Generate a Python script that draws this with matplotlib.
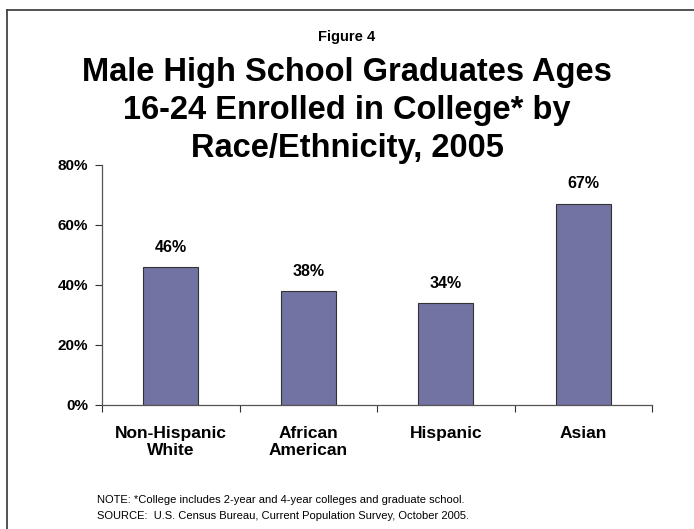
import matplotlib
matplotlib.use("Agg")
import matplotlib.pyplot as plt
from matplotlib.lines import Line2D

categories = ["Non-Hispanic\nWhite", "African\nAmerican", "Hispanic", "Asian"]
values = [46, 38, 34, 67]
yticks = [0, 20, 40, 60, 80]
ytick_labels = ["0%", "20%", "40%", "60%", "80%"]

plt.rcParams["font.family"] = ["Liberation Sans", "DejaVu Sans"]

W, H = 694, 529
fig = plt.figure(figsize=(W / 100, H / 100), dpi=100)

# page frame (top and left edges)
fig.add_artist(Line2D([7 / W, 1], [1 - 10 / H, 1 - 10 / H], color="#444444", lw=1.3))
fig.add_artist(Line2D([7 / W, 7 / W], [0, 1 - 10 / H], color="#444444", lw=1.3))

ax = fig.add_axes([102 / W, 1 - 405 / H, 550 / W, 240 / H])
x = list(range(len(categories)))
ax.bar(x, values, width=0.4, color="#7373A3", edgecolor="#333333", linewidth=0.8, zorder=2)
ax.set_xlim(-0.5, len(categories) - 0.5)
ax.set_ylim(0, 80)

for xi, v in zip(x, values):
    ax.annotate(f"{v}%", (xi, v), xytext=(0, 9), textcoords="offset points",
                ha="center", va="bottom", fontsize=11.5, fontweight="bold")

ax.set_yticks(yticks)
ax.set_yticklabels(ytick_labels, fontsize=11, fontweight="bold")
ax.set_xticks([i - 0.5 for i in range(len(categories) + 1)], minor=False)
ax.set_xticklabels([])
ax.set_xticks(x, minor=True)
ax.set_xticklabels(categories, minor=True, fontsize=12.5, fontweight="bold")
ax.tick_params(axis="x", which="minor", length=0, pad=15)
ax.tick_params(axis="x", which="major", length=5, width=0.8, color="#333333", direction="out")
ax.tick_params(axis="y", length=5, width=0.8, color="#333333", direction="out", pad=5)
for s in ["top", "right"]:
    ax.spines[s].set_visible(False)
for s in ["left", "bottom"]:
    ax.spines[s].set_color("#555555")
    ax.spines[s].set_linewidth(0.9)

fig.text(347 / W, 1 - 37 / H, "Figure 4", ha="center", va="center", fontsize=10.5, fontweight="bold")
title_lines = ["Male High School Graduates Ages", "16-24 Enrolled in College* by", "Race/Ethnicity, 2005"]
for i, line in enumerate(title_lines):
    fig.text(347 / W, 1 - (73 + 37.5 * i) / H, line, ha="center", va="center",
             fontsize=23.5, fontweight="bold")

fig.text(97 / W, 1 - 500 / H, "NOTE: *College includes 2-year and 4-year colleges and graduate school.",
         ha="left", va="center", fontsize=8)
fig.text(97 / W, 1 - 516 / H, "SOURCE:  U.S. Census Bureau, Current Population Survey, October 2005.",
         ha="left", va="center", fontsize=8)

fig.savefig("out.png", dpi=100)
